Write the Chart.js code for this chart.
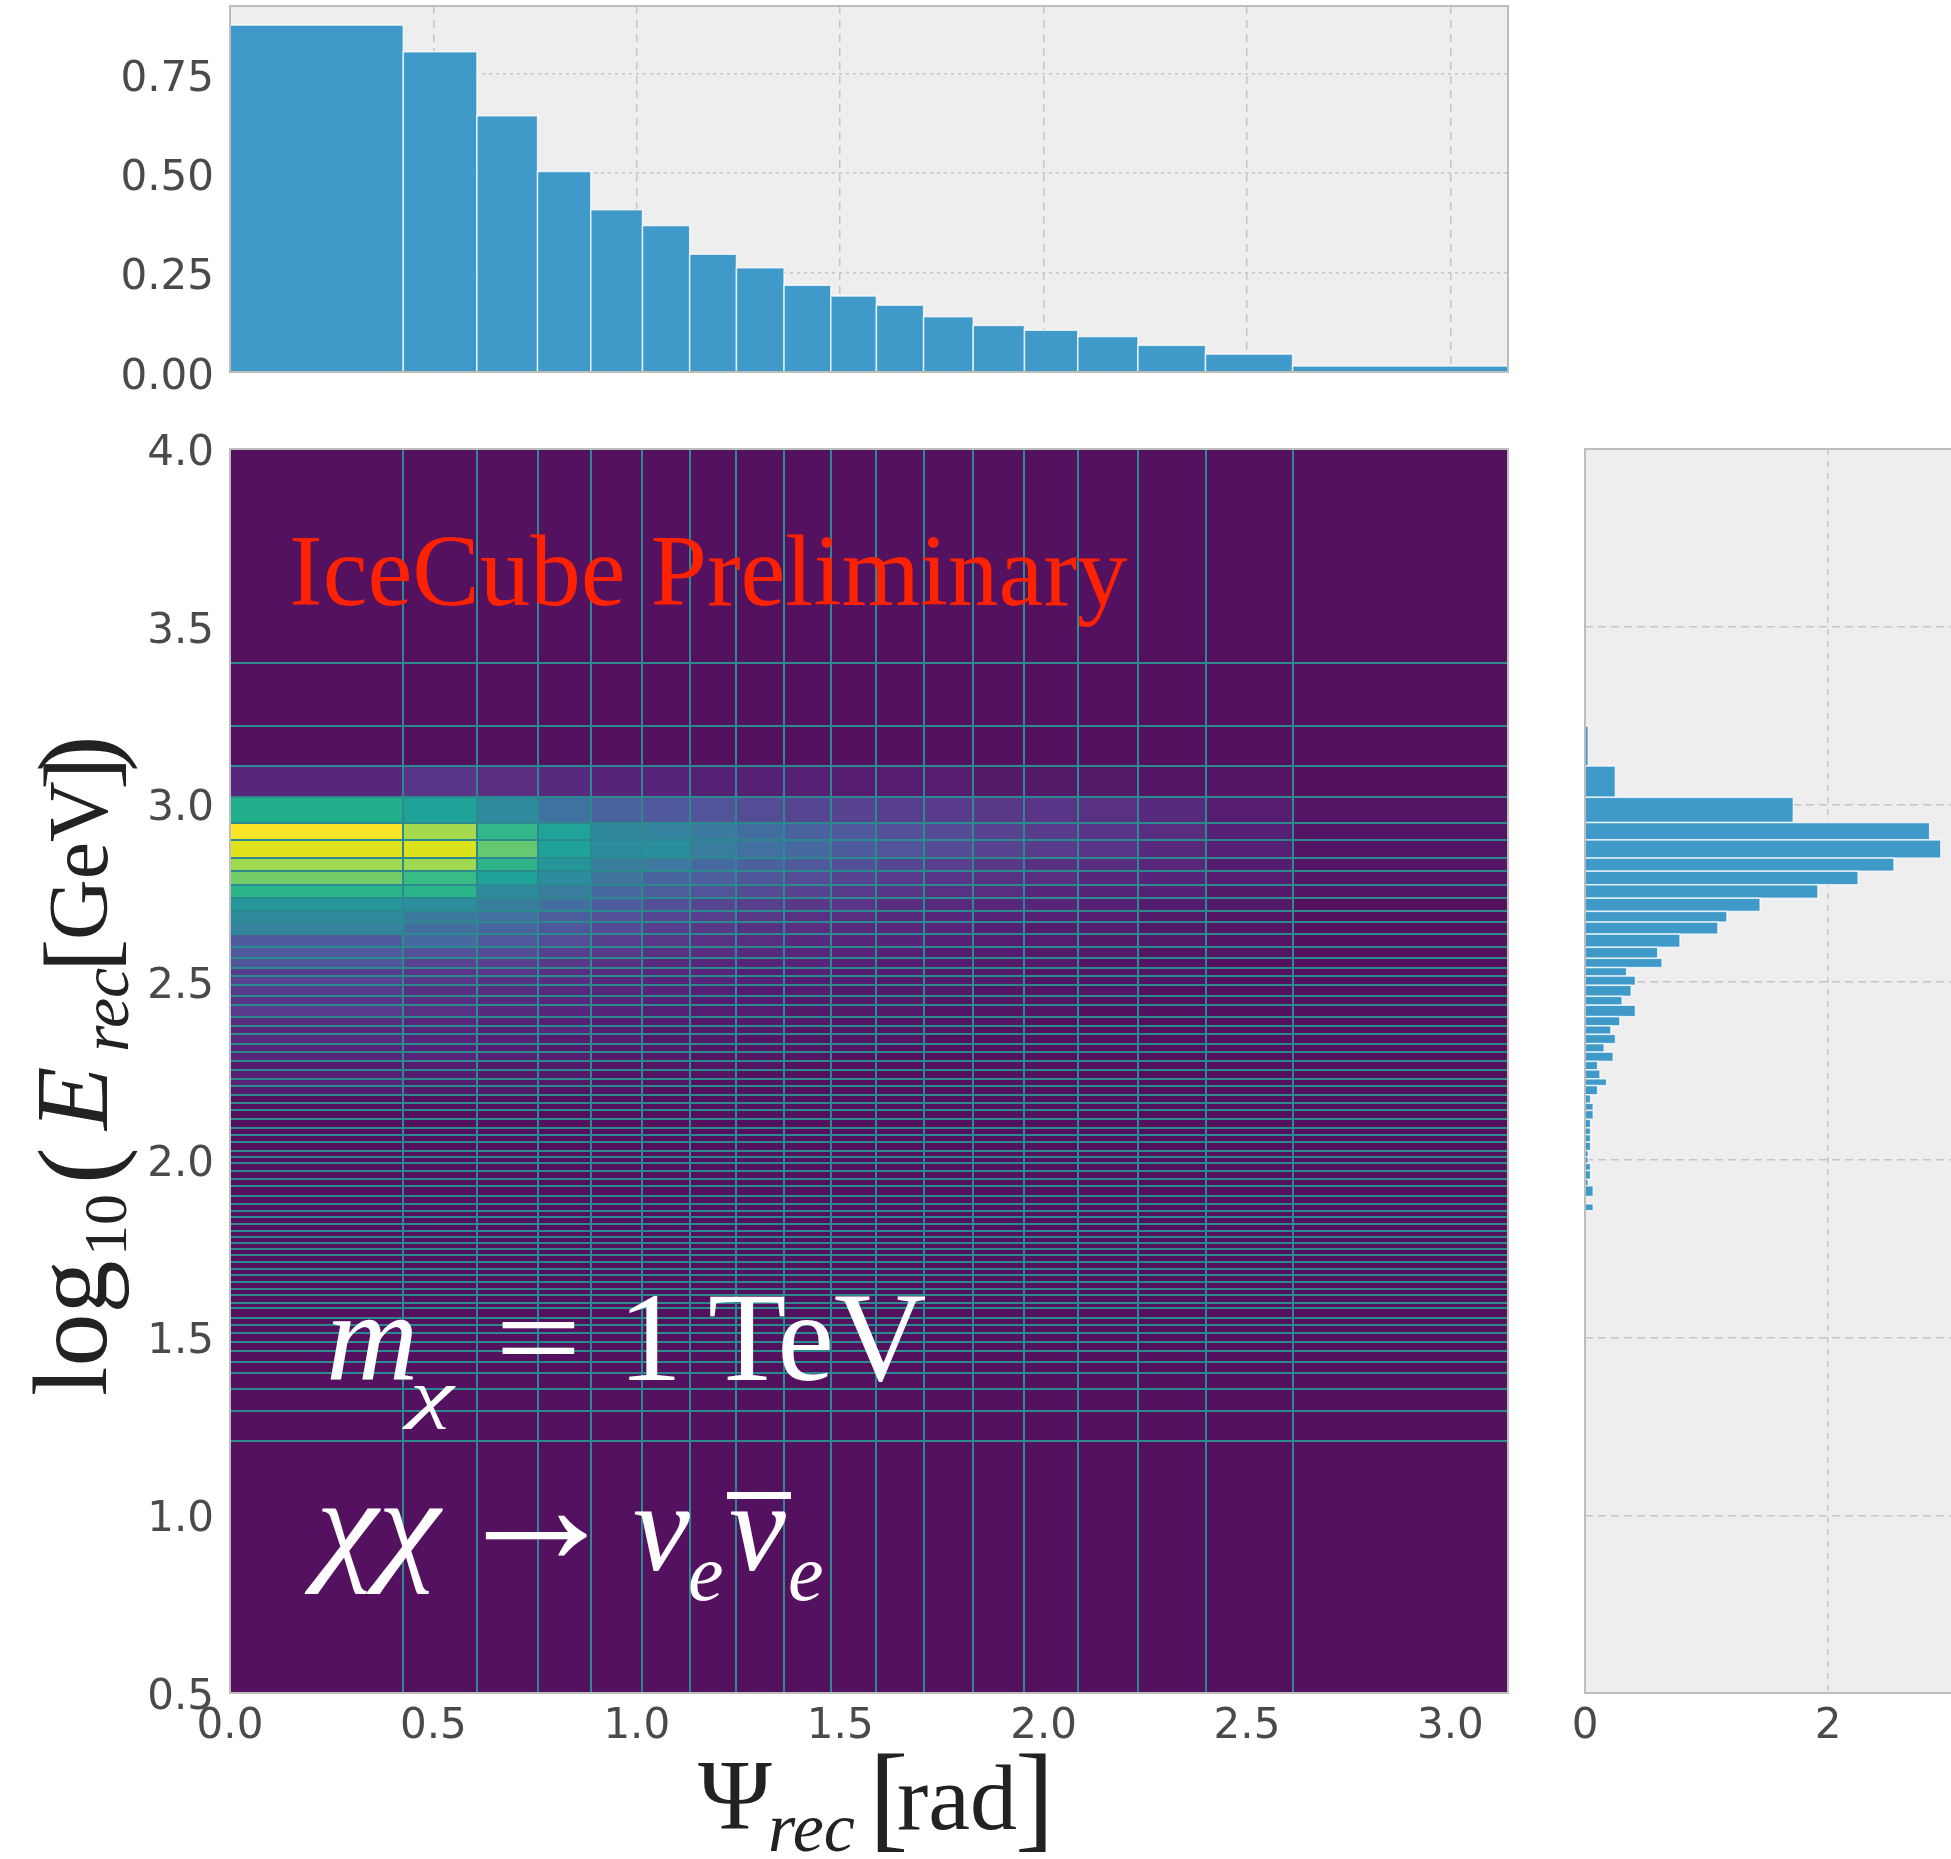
<!DOCTYPE html>
<html>
<head>
<meta charset="utf-8">
<script src="https://cdn.jsdelivr.net/npm/chart.js@4.4.0/dist/chart.umd.min.js"></script>
<style>
html, body { margin:0; padding:0; background:#fff; width:1951px; height:1859px; overflow:hidden; position:relative; }
canvas { position:absolute; }
.t { position:absolute; white-space:nowrap; font-family:"Liberation Serif", serif; line-height:1; transform-origin:0 50%; }
</style>
</head>
<body>
<canvas id="top"></canvas>
<canvas id="heat"></canvas>
<canvas id="side"></canvas>
<div id="labels"></div>
<script>
// ================= DATA =================
// angular bins, Psi_rec [rad]
const psiEdges = [0, 0.426, 0.607, 0.756, 0.887, 1.014, 1.130, 1.245, 1.362, 1.477, 1.589, 1.705, 1.827, 1.953, 2.084, 2.232, 2.398, 2.612, 3.1416];
const psiCounts = [0.872, 0.805, 0.644, 0.504, 0.408, 0.368, 0.296, 0.262, 0.218, 0.191, 0.168, 0.139, 0.117, 0.105, 0.089, 0.067, 0.045, 0.015];

// energy bins, log10(E_rec / GeV)
const eEdges = [0.5, 1.210, 1.293, 1.355, 1.400, 1.430, 1.462, 1.488, 1.512, 1.535, 1.555, 1.582, 1.598, 1.619, 1.638,
  1.657, 1.675, 1.694, 1.713, 1.732, 1.749, 1.765, 1.782, 1.801, 1.820, 1.839, 1.857, 1.876, 1.897, 1.927, 1.945,
  1.970, 1.990, 2.008, 2.026, 2.050, 2.071, 2.090, 2.114, 2.139, 2.159, 2.183, 2.209, 2.228, 2.253, 2.277, 2.303,
  2.327, 2.353, 2.377, 2.403, 2.435, 2.460, 2.491, 2.517, 2.541, 2.567, 2.598, 2.635, 2.669, 2.699, 2.736, 2.774,
  2.812, 2.849, 2.900, 2.949, 3.020, 3.108, 3.220, 3.397, 4.0];

// side histogram: lower edge of each filled energy bin and its height
const sideLo = [3.108, 3.020, 2.949, 2.900, 2.849, 2.812, 2.774, 2.736, 2.699, 2.669, 2.635, 2.598, 2.567, 2.541,
  2.517, 2.491, 2.460, 2.435, 2.403, 2.377, 2.353, 2.327, 2.303, 2.277, 2.253, 2.228, 2.209, 2.183, 2.159, 2.139,
  2.114, 2.090, 2.071, 2.050, 2.026, 2.008, 1.990, 1.970, 1.945, 1.927, 1.897, 1.857];
const sideCounts = [0.027, 0.25, 1.713, 2.834, 2.926, 2.541, 2.246, 1.915, 1.44, 1.167, 1.093, 0.781, 0.598, 0.634,
  0.342, 0.415, 0.38, 0.306, 0.415, 0.287, 0.213, 0.251, 0.158, 0.232, 0.104, 0.123, 0.178, 0.104, 0.046, 0.068,
  0.068, 0.046, 0.046, 0.046, 0.046, 0.027, 0.027, 0.046, 0.046, 0.027, 0.068, 0.068];

// 2D histogram: lower energy edge of each non-empty row, then one value per Psi bin (others are empty)
const heatLo = [3.020, 2.949, 2.900, 2.849, 2.812, 2.774, 2.736, 2.699, 2.669, 2.635, 2.598, 2.567, 2.541, 2.517,
  2.491, 2.460, 2.435, 2.403, 2.377, 2.353, 2.327, 2.303, 2.277, 2.253, 2.228, 2.209, 2.183];
const heatVals = [
  [0.06,0.10,0.08,0.07,0.05,0.05,0.04,0.04,0.04,0.03,0.03,0.03,0.02,0.02,0.02,0.01,0.01,0],
  [0.62,0.55,0.44,0.32,0.25,0.21,0.19,0.17,0.15,0.14,0.13,0.12,0.11,0.10,0.09,0.07,0.03,0.01],
  [1.00,0.86,0.66,0.56,0.43,0.40,0.35,0.30,0.25,0.21,0.18,0.16,0.14,0.12,0.10,0.08,0.04,0.01],
  [0.94,0.93,0.76,0.55,0.45,0.46,0.37,0.31,0.28,0.22,0.19,0.16,0.14,0.12,0.10,0.07,0.04,0.01],
  [0.85,0.85,0.65,0.50,0.37,0.34,0.28,0.24,0.21,0.18,0.15,0.13,0.11,0.09,0.08,0.06,0.03,0.01],
  [0.78,0.68,0.55,0.45,0.33,0.26,0.23,0.20,0.17,0.14,0.12,0.10,0.09,0.08,0.06,0.05,0.03,0.01],
  [0.64,0.64,0.44,0.37,0.27,0.23,0.19,0.16,0.14,0.12,0.10,0.09,0.08,0.06,0.05,0.04,0.02,0.01],
  [0.50,0.46,0.38,0.30,0.22,0.18,0.15,0.13,0.11,0.10,0.08,0.07,0.06,0.05,0.04,0.03,0.02,0],
  [0.44,0.35,0.31,0.23,0.18,0.15,0.13,0.11,0.09,0.08,0.07,0.06,0.05,0.04,0.03,0.02,0.01,0],
  [0.40,0.30,0.26,0.20,0.16,0.13,0.11,0.09,0.08,0.07,0.06,0.05,0.04,0.03,0.03,0.02,0.01,0],
  [0.22,0.28,0.21,0.17,0.13,0.11,0.09,0.08,0.07,0.06,0.05,0.04,0.03,0.03,0.02,0.02,0.01,0],
  [0.21,0.18,0.16,0.13,0.11,0.09,0.08,0.07,0.06,0.05,0.04,0.03,0.03,0.02,0.02,0.01,0.01,0],
  [0.20,0.14,0.13,0.11,0.09,0.07,0.06,0.05,0.05,0.04,0.03,0.03,0.02,0.02,0.01,0.01,0,0],
  [0.12,0.10,0.10,0.08,0.07,0.06,0.05,0.04,0.04,0.03,0.03,0.02,0.02,0.01,0.01,0.01,0,0],
  [0.14,0.11,0.09,0.08,0.06,0.05,0.05,0.04,0.03,0.03,0.02,0.02,0.02,0.01,0.01,0.01,0,0],
  [0.12,0.09,0.08,0.07,0.06,0.05,0.04,0.03,0.03,0.02,0.02,0.02,0.01,0.01,0.01,0,0,0],
  [0.10,0.08,0.07,0.06,0.05,0.04,0.03,0.03,0.02,0.02,0.02,0.01,0.01,0.01,0,0,0,0],
  [0.12,0.09,0.07,0.06,0.05,0.04,0.03,0.03,0.02,0.02,0.02,0.01,0.01,0.01,0,0,0,0],
  [0.08,0.06,0.05,0.04,0.03,0.03,0.02,0.02,0.02,0.01,0.01,0.01,0.01,0,0,0,0,0],
  [0.06,0.05,0.04,0.06,0.03,0.02,0.02,0.02,0.01,0.01,0.01,0.01,0,0,0,0,0,0],
  [0.07,0.05,0.04,0.03,0.03,0.02,0.02,0.01,0.01,0.01,0.01,0,0,0,0,0,0,0],
  [0.05,0.04,0.03,0.02,0.02,0.02,0.01,0.01,0.01,0.01,0,0,0,0,0,0,0,0],
  [0.06,0.05,0.04,0.03,0.02,0.02,0.01,0.01,0.01,0,0,0,0,0,0,0,0,0],
  [0.03,0.03,0.02,0.02,0.01,0.01,0.01,0.01,0,0,0,0,0,0,0,0,0,0],
  [0.04,0.03,0.02,0.02,0.01,0.01,0.01,0,0,0,0,0,0,0,0,0,0,0],
  [0.05,0.03,0.02,0.02,0.01,0.01,0,0,0,0,0,0,0,0,0,0,0,0],
  [0.03,0.02,0.02,0.01,0.01,0,0,0,0,0,0,0,0,0,0,0,0,0]
];

// tick steps
const psiTicksStep = 0.5;
const eTicksStep = 0.5;
const topTicksStep = 0.25;
const sideTicksStep = 2;

// ================= STYLE =================
const BAR = "#3f9ac9";
const PANEL = "#eeeeee";
const FRAME = "#bdbdbd";
const GRID = "#c6c6c6";
const TICK_FONT = { family: "DejaVu Sans", size: 42 };
const TICK_COLOR = "#4a4a4a";
const EDGE = "#2c8a8e";

const cmapStops = [
  [0.00, [83, 17, 95]],
  [0.05, [87, 36, 121]],
  [0.10, [90, 52, 134]],
  [0.16, [85, 74, 148]],
  [0.22, [78, 92, 157]],
  [0.30, [67, 110, 160]],
  [0.38, [56, 127, 158]],
  [0.46, [43, 142, 157]],
  [0.54, [31, 160, 154]],
  [0.62, [34, 176, 140]],
  [0.70, [64, 190, 132]],
  [0.78, [115, 205, 104]],
  [0.86, [165, 217, 78]],
  [0.93, [219, 226, 28]],
  [1.00, [251, 229, 41]]
];

function cmap(v){
  if (v <= 0) return "rgb(83,17,95)";
  for (let k = 1; k < cmapStops.length; k++){
    const [v1, c1] = cmapStops[k];
    const [v0, c0] = cmapStops[k - 1];
    if (v <= v1){
      const f = (v - v0) / (v1 - v0);
      const c = c0.map((a, n) => Math.round(a + f * (c1[n] - a)));
      return `rgb(${c[0]},${c[1]},${c[2]})`;
    }
  }
  return "rgb(251,229,41)";
}

// fixed axis sizes so the three panels line up
function fixW(w){
  return s => { s.width = w; s.paddingTop = 0; s.paddingBottom = 0; };
}
function fixH(h){
  return s => { s.height = h; s.paddingLeft = 0; s.paddingRight = 0; };
}

function place(id, left, top, w, h){
  const c = document.getElementById(id);
  c.width = w; c.height = h;
  c.style.left = left + "px"; c.style.top = top + "px";
  return c;
}

// panel background + frame
const panelPlugin = {
  id: "panel",
  beforeDraw(chart){
    const a = chart.chartArea, ctx = chart.ctx;
    ctx.save();
    ctx.fillStyle = PANEL;
    ctx.fillRect(a.left, a.top, a.right - a.left, a.bottom - a.top);
    ctx.restore();
  },
  afterDraw(chart){
    const a = chart.chartArea, ctx = chart.ctx;
    ctx.save();
    ctx.strokeStyle = FRAME;
    ctx.lineWidth = 2;
    ctx.strokeRect(a.left, a.top, a.right - a.left, a.bottom - a.top);
    ctx.restore();
  }
};

// histogram bars with variable widths, drawn through the chart scales
const binsPlugin = {
  id: "bins",
  beforeDatasetsDraw(chart, args, opts){
    if (!opts.bins) return;
    const ctx = chart.ctx, xs = chart.scales.x, ys = chart.scales.y;
    ctx.save();
    opts.bins.forEach(b => {
      let x0, x1, y0, y1;
      if (opts.horizontal){
        x0 = xs.getPixelForValue(0); x1 = xs.getPixelForValue(b.v);
        y0 = ys.getPixelForValue(b.lo); y1 = ys.getPixelForValue(b.hi);
      } else {
        x0 = xs.getPixelForValue(b.lo); x1 = xs.getPixelForValue(b.hi);
        y0 = ys.getPixelForValue(0); y1 = ys.getPixelForValue(b.v);
      }
      ctx.fillStyle = BAR;
      ctx.fillRect(x0, y1, x1 - x0, y0 - y1);
      ctx.strokeStyle = "rgba(255,255,255,0.75)";
      ctx.lineWidth = 1.5;
      ctx.strokeRect(x0, y1, x1 - x0, y0 - y1);
    });
    ctx.restore();
  }
};

// 2D histogram cells
const meshPlugin = {
  id: "mesh",
  beforeDatasetsDraw(chart, args, opts){
    if (!opts.on) return;
    const ctx = chart.ctx, xs = chart.scales.x, ys = chart.scales.y;
    ctx.save();
    for (let j = 0; j < eEdges.length - 1; j++){
      const r = heatLo.findIndex(v => Math.abs(v - eEdges[j]) < 1e-6);
      for (let i = 0; i < psiEdges.length - 1; i++){
        const val = r >= 0 ? heatVals[r][i] : 0;
        const x0 = xs.getPixelForValue(psiEdges[i]), x1 = xs.getPixelForValue(psiEdges[i + 1]);
        const y0 = ys.getPixelForValue(eEdges[j]), y1 = ys.getPixelForValue(eEdges[j + 1]);
        ctx.fillStyle = cmap(val);
        ctx.fillRect(x0, y1, x1 - x0, y0 - y1);
      }
    }
    ctx.strokeStyle = EDGE;
    ctx.lineWidth = 2;
    const a = chart.chartArea;
    psiEdges.slice(1, -1).forEach(v => {
      const x = Math.round(xs.getPixelForValue(v));
      ctx.beginPath(); ctx.moveTo(x, a.top); ctx.lineTo(x, a.bottom); ctx.stroke();
    });
    eEdges.slice(1, -1).forEach(v => {
      const y = Math.round(ys.getPixelForValue(v));
      ctx.beginPath(); ctx.moveTo(a.left, y); ctx.lineTo(a.right, y); ctx.stroke();
    });
    ctx.restore();
  }
};

Chart.register(panelPlugin, binsPlugin, meshPlugin);

const noLegend = { legend: { display: false }, tooltip: { enabled: false } };

// ================= TOP HISTOGRAM =================
const topBins = psiCounts.map((c, i) => ({ lo: psiEdges[i], hi: psiEdges[i + 1], v: c }));
new Chart(place("top", 0, 0, 1520, 402), {
  type: "scatter",
  data: { datasets: [{ data: topBins.map(b => ({ x: (b.lo + b.hi) / 2, y: b.v })), pointRadius: 0 }] },
  options: {
    responsive: false, animation: false,
    layout: { padding: { top: 6, right: 12, left: 0, bottom: 0 } },
    plugins: { ...noLegend, bins: { bins: topBins } },
    scales: {
      x: {
        min: 0, max: Math.PI,
        ticks: { display: false, stepSize: psiTicksStep, includeBounds: false },
        grid: { color: GRID, lineWidth: 1.5, drawTicks: false },
        border: { display: false, dash: [8, 6] },
        afterFit: fixH(30)
      },
      y: {
        min: 0, max: 0.92,
        ticks: { stepSize: topTicksStep, includeBounds: false, font: TICK_FONT, color: TICK_COLOR, padding: 16,
          labelOffset: 6, callback: v => v.toFixed(2) },
        grid: { color: GRID, lineWidth: 1.5, drawTicks: false },
        border: { display: false, dash: [3, 4] },
        afterFit: fixW(230)
      }
    }
  }
});

// ================= HEATMAP =================
const cellPts = [];
heatLo.forEach((lo, r) => {
  heatVals[r].forEach((v, i) => {
    if (v > 0) cellPts.push({ x: (psiEdges[i] + psiEdges[i + 1]) / 2, y: lo });
  });
});
new Chart(place("heat", 0, 420, 1520, 1343), {
  type: "scatter",
  data: { datasets: [{ data: cellPts, pointRadius: 0 }] },
  options: {
    responsive: false, animation: false,
    layout: { padding: { top: 29, right: 12, left: 0, bottom: 0 } },
    plugins: { ...noLegend, mesh: { on: true } },
    scales: {
      x: {
        min: 0, max: Math.PI,
        ticks: { stepSize: psiTicksStep, includeBounds: false, font: TICK_FONT, color: TICK_COLOR, padding: 9,
          maxRotation: 0, autoSkip: false, callback: v => v.toFixed(1) },
        grid: { display: false, drawTicks: false },
        border: { display: false },
        afterFit: fixH(70)
      },
      y: {
        min: 0.5, max: 4.0,
        ticks: { stepSize: eTicksStep, includeBounds: false, font: TICK_FONT, color: TICK_COLOR, padding: 16,
          labelOffset: 5, autoSkip: false, callback: v => v.toFixed(1) },
        grid: { display: false, drawTicks: false },
        border: { display: false },
        afterFit: fixW(230)
      }
    }
  }
});

// ================= SIDE HISTOGRAM =================
const sideBins = sideLo.map((lo, k) => {
  const j = eEdges.findIndex(v => Math.abs(v - lo) < 1e-6);
  return { lo: lo, hi: eEdges[j + 1], v: sideCounts[k] };
});
new Chart(place("side", 1540, 420, 422, 1343), {
  type: "scatter",
  data: { datasets: [{ data: sideBins.map(b => ({ x: b.v, y: (b.lo + b.hi) / 2 })), pointRadius: 0 }] },
  options: {
    responsive: false, animation: false,
    layout: { padding: { top: 29, right: 0, left: 45, bottom: 0 } },
    plugins: { ...noLegend, bins: { bins: sideBins, horizontal: true } },
    scales: {
      x: {
        min: 0, max: 3.1,
        ticks: { stepSize: sideTicksStep, includeBounds: false, font: TICK_FONT, color: TICK_COLOR, padding: 9,
          maxRotation: 0, callback: v => v.toFixed(0) },
        grid: { color: GRID, lineWidth: 1.5, drawTicks: false },
        border: { display: false, dash: [6, 6] },
        afterFit: fixH(70)
      },
      y: {
        min: 0.5, max: 4.0,
        ticks: { display: false, stepSize: eTicksStep, includeBounds: false },
        grid: { color: GRID, lineWidth: 1.5, drawTicks: false },
        border: { display: false, dash: [8, 5] },
        afterFit: fixW(0)
      }
    }
  }
});

// ================= TEXT =================
const labels = document.getElementById("labels");
function put(html, left, baseline, fs, extra, parent){
  const s = document.createElement("span");
  s.className = "t";
  s.innerHTML = html;
  s.style.fontSize = fs + "px";
  s.style.left = left + "px";
  s.style.top = (baseline - 0.8375 * fs) + "px";
  Object.assign(s.style, extra || {});
  (parent || labels).appendChild(s);
  return s;
}

put("IceCube Preliminary", 289, 606, 101, { color: "#ff2200" });

const W = { color: "#ffffff" };
put("<i>m</i>", 326, 1380, 128, W);
put("<i>χ</i>", 410, 1416, 64, { color: "#fff", transform: "scaleX(1.55)" });
put("=", 495, 1380, 128, { color: "#fff", transform: "scaleX(1.2)" });
put("1", 618, 1380, 128, W);
put("TeV", 708, 1380, 128, W);

put("<i>χχ</i>", 316, 1567, 128, { color: "#fff", transform: "scaleX(1.1)" });
put("→", 451, 1564, 170, W);
put("<i>ν</i>", 633, 1570, 128, W);
put("<i>e</i>", 688, 1600, 80, W);
put("<i>ν</i>", 729, 1570, 128, W);
put("<i>e</i>", 788, 1600, 80, W);
const bar = document.createElement("div");
Object.assign(bar.style, { position: "absolute", left: "727px", top: "1492px", width: "64px", height: "7px", background: "#fff" });
labels.appendChild(bar);

// x axis title
const K = { color: "#222" };
put("Ψ", 698, 1829, 100, K);
put("<i>rec</i>", 768, 1852, 70, K);
put("[", 869, 1837, 118, K);
put("rad", 897, 1829, 94, K);
put("]", 1015, 1837, 118, K);

// y axis title (rotated, local frame 660 x 100)
const yt = document.createElement("div");
Object.assign(yt.style, { position: "absolute", width: "660px", height: "100px",
  left: (84 - 330) + "px", top: (1072 - 50) + "px", transform: "rotate(-90deg)" });
labels.appendChild(yt);
put("log", 6, 73, 106, K, yt);
put("10", 146, 92, 62, K, yt);
put("(", 218, 80, 110, K, yt);
put("<i>E</i>", 272, 73, 104, K, yt);
put("<i>rec</i>", 350, 94, 68, K, yt);
put("[", 430, 80, 100, K, yt);
put("GeV", 462, 73, 84, K, yt);
put("]", 612, 80, 100, K, yt);
put(")", 630, 80, 110, K, yt);
</script>
</body>
</html>
